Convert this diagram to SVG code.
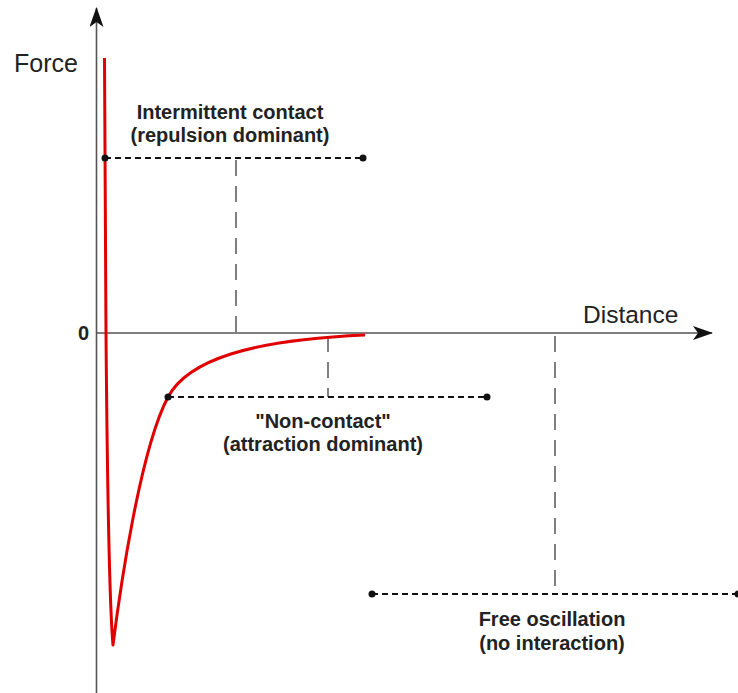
<svg xmlns="http://www.w3.org/2000/svg" width="738" height="693" viewBox="0 0 738 693">
<defs>
<style>
.axis{stroke:#555;stroke-width:1.6;fill:none}
.lab{font-family:"Liberation Sans",Arial,sans-serif;fill:#222}
.reg{font-family:"Liberation Sans",Arial,sans-serif;font-weight:bold;font-size:20px;fill:#222;text-anchor:middle}
.hd{stroke:#111;stroke-width:2;stroke-dasharray:6,4;fill:none}
.vd{stroke:#555;stroke-width:1.5;stroke-dasharray:16,10;fill:none}
.dot{fill:#111}
</style>
<marker id="ah" viewBox="0 0 20 14" refX="19" refY="7" markerWidth="20" markerHeight="14" markerUnits="userSpaceOnUse" orient="auto">
<path d="M0,0 L20,7 L0,14 L5,7 Z" fill="#111"/>
</marker>
</defs>
<rect width="738" height="693" fill="#fff"/>
<g id="axes">
<line class="axis" x1="96.5" y1="693" x2="96.5" y2="8" marker-end="url(#ah)"/>
<line class="axis" x1="96" y1="333" x2="712" y2="333" marker-end="url(#ah)"/>
<text class="lab" x="14" y="72" font-size="25">Force</text>
<text class="lab" x="583" y="323" font-size="24.5">Distance</text>
<text class="lab" x="78" y="340" font-size="20" font-weight="bold">0</text>
</g>
<g id="connectors">
<line class="vd" x1="236" y1="160" x2="236" y2="333"/>
<line class="vd" x1="328" y1="336" x2="328" y2="397"/>
<line class="vd" x1="555" y1="336" x2="555" y2="594"/>
<line class="hd" x1="105" y1="158" x2="363" y2="158"/>
<line class="hd" x1="168" y1="397" x2="487" y2="397"/>
<line class="hd" x1="372" y1="594" x2="738" y2="594"/>
</g>
<g id="curve">
<path d="M104.5,58 L106,333 C107,450 109,600 113,645 C120,590 140,450 168,397 C188,360 250,340 365,335" fill="none" stroke="#e00000" stroke-width="3" stroke-linejoin="round"/>
</g>
<g id="intermittent">
<circle class="dot" cx="105" cy="158" r="3.5"/>
<circle class="dot" cx="363" cy="158" r="3.5"/>
<text class="reg" x="230" y="119">Intermittent contact</text>
<text class="reg" x="230" y="142">(repulsion dominant)</text>
</g>
<g id="noncontact">
<circle class="dot" cx="168" cy="397" r="3.5"/>
<circle class="dot" cx="487" cy="397" r="3.5"/>
<text class="reg" x="323" y="428">"Non-contact"</text>
<text class="reg" x="323" y="451">(attraction dominant)</text>
</g>
<g id="free">
<circle class="dot" cx="372" cy="594" r="3.5"/>
<circle class="dot" cx="738" cy="594" r="3.5"/>
<text class="reg" x="552" y="626">Free oscillation</text>
<text class="reg" x="552" y="650">(no interaction)</text>
</g>
</svg>
